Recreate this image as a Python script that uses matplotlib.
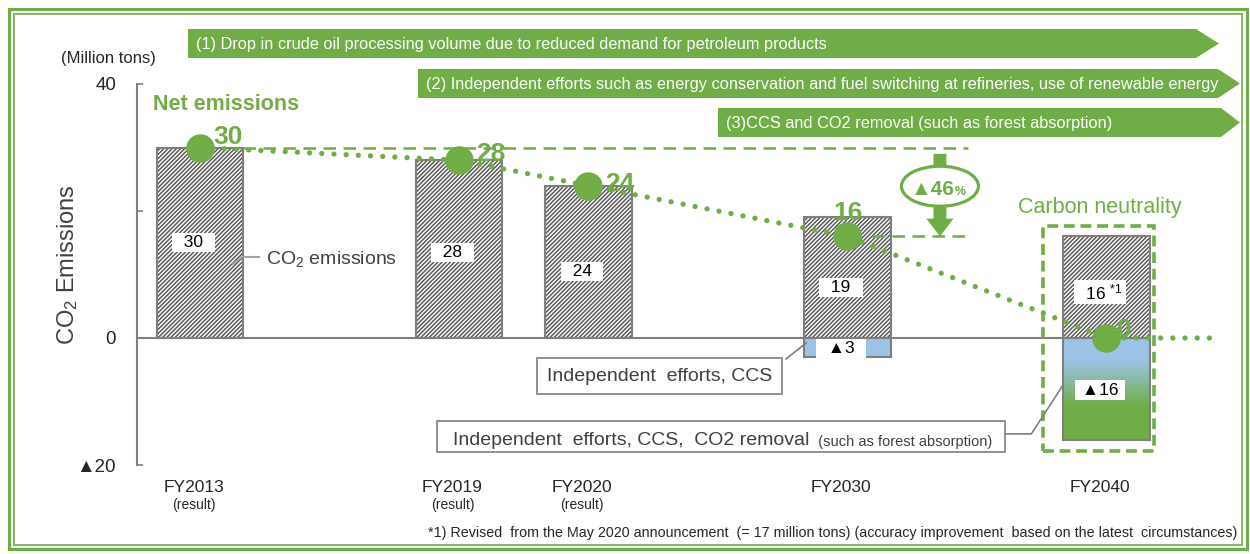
import numpy as np
import matplotlib.pyplot as plt
from matplotlib.patches import Rectangle, Polygon, Ellipse, FancyArrow
from matplotlib.colors import LinearSegmentedColormap

plt.rcParams['font.family'] = ['Liberation Sans', 'DejaVu Sans']
plt.rcParams['mathtext.fontset'] = 'custom'
plt.rcParams['mathtext.rm'] = 'Liberation Sans'
plt.rcParams['mathtext.it'] = 'Liberation Sans:italic'
plt.rcParams['mathtext.bf'] = 'Liberation Sans:bold'
plt.rcParams['hatch.linewidth'] = 1.1

# ---- data ----
years = ['FY2013', 'FY2019', 'FY2020', 'FY2030', 'FY2040']
notes = ['(result)', '(result)', '(result)', '', '']
slots = [0, 2, 3, 5, 7]            # horizontal slot of each year
co2 = [30, 28, 24, 19, 16]         # CO2 emissions (million tons)
removal = [0, 0, 0, -3, -16]       # independent efforts, CCS, CO2 removal
net = [30, 28, 24, 16, 0]          # net emissions
co2_text = ['  30  ', '  28  ', '  24  ', '  19  ', r'  16 $^{*1}$ ']
removal_text = ['', '', '', '  ▲3  ', ' ▲16 ']
reduction = '▲46'

yticks = [-20, 0, 20, 40]
ytick_labels = ['▲20', '0', '', '40']

banners = [
    '(1) Drop in crude oil processing volume due to reduced demand for petroleum products',
    '(2) Independent efforts such as energy conservation and fuel switching at refineries, use of renewable energy',
    '(3)CCS and CO2 removal (such as forest absorption)',
]
footnote = ('*1) Revised  from the May 2020 announcement  (= 17 million tons) '
            '(accuracy improvement  based on the latest  circumstances)')

# ---- style / layout ----
GREEN = '#70AD47'
BLUE = '#9DC3E6'
GREY = '#7F7F7F'
W, H = 1250, 554
bw = 0.67

fig = plt.figure(figsize=(W / 100, H / 100), dpi=100)

# pixel-space layer for frame, banners and loose text
deco = fig.add_axes([0, 0, 1, 1], zorder=0)
deco.set_xlim(0, W)
deco.set_ylim(H, 0)
deco.axis('off')

ax = fig.add_axes([137 / W, 1 - 465 / H, (1230 - 137) / W, (465 - 84) / H], zorder=1)
ax.set_facecolor('none')

# CO2 emission bars (hatched)
ax.bar(slots, co2, bw, color='white', edgecolor='#595959', hatch='////////', lw=0, zorder=2)
ax.bar(slots, co2, bw, fill=False, edgecolor=GREY, lw=1.5, zorder=3)

# reduction bars
neg_idx = [i for i, v in enumerate(removal) if v < 0]
neg = ax.bar([slots[i] for i in neg_idx], [removal[i] for i in neg_idx], bw,
             color=[BLUE if removal[i] > -10 else 'none' for i in neg_idx],
             edgecolor=GREY, lw=1.5, zorder=3)
# blue -> green gradient for the 2040 bar
cmap = LinearSegmentedColormap.from_list('bg', [(0, BLUE), (0.22, BLUE), (0.67, GREEN), (1, GREEN)])
last = neg[-1]
x0 = last.get_x()
im = ax.imshow(np.linspace(0, 1, 200)[:, None], cmap=cmap, origin='upper', aspect='auto',
               extent=[x0, x0 + bw, removal[neg_idx[-1]], 0], zorder=2.5)
im.set_clip_path(last)

# zero line up to the 2040 bar
ax.hlines(0, -0.49, x0, color=GREY, lw=1.5, zorder=3)

# net emission line
line_end = 7.82
ax.plot(slots + [line_end], net + [net[-1]], color=GREEN, lw=3.8, ls=(0, (0.01, 2.3)),
        dash_capstyle='round', zorder=4)
ax.plot(slots, net, 'o', color=GREEN, ms=19.5, zorder=5)

net_offsets = [(13, 10, 'left'), (17, 6, 'left'), (17, 2, 'left'), (1, 23, 'center'), (11, 8, 'left')]
for s, v, (dx, dy, ha) in zip(slots, net, net_offsets):
    ax.annotate(str(v), (s, v), xytext=(dx, dy), textcoords='offset pixels', ha=ha, va='center',
                fontsize=19, fontweight='bold', color=GREEN, zorder=6)

# values inside bars
co2_y = [15.0, 13.5, 10.5, 7.9, 7.2]
for s, t, y in zip(slots, co2_text, co2_y):
    ax.text(s - 0.05, y, t, ha='center', va='center', fontsize=12.5, zorder=4,
            bbox=dict(fc='white', ec='none', pad=1.5))
rem_y = [0, 0, 0, -1.6, -8.2]
for s, t, y in zip(slots, removal_text, rem_y):
    if t:
        ax.text(s - 0.05, y, t, ha='center', va='center', fontsize=12.5, zorder=4,
                bbox=dict(fc='white', ec='none', pad=1.5))

# dashed reference lines and the -46% arrow
ax.hlines(net[0], 0.33, 5.93, color=GREEN, lw=1.8, ls=(0, (5, 3)), zorder=3)
ax.hlines(net[3], 5.19, 5.93, color=GREEN, lw=1.8, ls=(0, (5, 3)), zorder=3)
ax.add_patch(FancyArrow(5.714, 29.0, 0, -(29.0 - net[3]), width=0.1, head_width=0.21,
                        head_length=2.8, length_includes_head=True, color=GREEN, lw=0, zorder=4))
ax.add_patch(Ellipse((5.714, 23.9), 0.595, 6.3, fc='white', ec=GREEN, lw=2.3, zorder=5))
ax.text(5.83, 22.5, reduction, ha='right', va='baseline', fontsize=15, fontweight='bold',
        color=GREEN, zorder=6)
ax.text(5.83, 22.5, '%', ha='left', va='baseline', fontsize=9, fontweight='bold',
        color=GREEN, zorder=6)

# carbon neutrality frame
ax.add_patch(Rectangle((6.51, -17.8), 0.86, 35.4, fill=False, ec=GREEN, lw=2.6,
                       ls=(0, (3, 1.6)), zorder=4))
ax.text(6.95, 20.6, 'Carbon neutrality', ha='center', va='center', fontsize=15.5, color=GREEN)
ax.text(-0.363, 36.7, 'Net emissions', ha='left', va='center', fontsize=15.5,
        fontweight='bold', color=GREEN)

# callouts
ax.plot([0.255, 0.324, 0.456], [11.65, 12.76, 12.76], color='#A6A6A6', lw=1.5, zorder=4)
ax.text(0.51, 12.4, 'CO$_2$ emissions', ha='left', va='center', fontsize=14, color='#404040')

ax.plot([4.525, 4.68], [-3.3, -0.8], color=GREY, lw=1.2, zorder=4)
ax.text(3.55, -6.0, 'Independent  efforts, CCS', ha='center', va='center', fontsize=14,
        color='#404040', zorder=5,
        bbox=dict(fc='white', ec=GREY, lw=1.2, boxstyle='square,pad=0.5'))

ax.plot([6.22, 6.42, 6.66], [-15.1, -15.1, -7.56], color=GREY, lw=1.2, zorder=4)
ax.add_patch(Rectangle((1.83, -17.95), 6.22 - 1.83, 4.88, fc='white', ec=GREY, lw=1.2, zorder=4))
t1 = ax.text(1.955, -16.8, 'Independent  efforts, CCS,  CO2 removal', ha='left', va='baseline',
             fontsize=14, color='#404040', zorder=5)
ax.annotate('  (such as forest absorption)', xy=(1, 0), xycoords=t1, ha='left', va='bottom',
            fontsize=10.5, color='#404040', zorder=5)

# axes styling
ax.set_xlim(-0.4865, 7.954)
ax.set_ylim(-20, 40)
for side in ['top', 'right', 'bottom']:
    ax.spines[side].set_visible(False)
ax.spines['left'].set_color(GREY)
ax.spines['left'].set_linewidth(1.5)
ax.set_yticks(yticks, ytick_labels)
ax.tick_params(axis='y', direction='in', length=4.5, width=1.2, color=GREY, pad=15,
               labelsize=13.5, labelcolor='#262626')
ax.set_xticks([s - 0.05 for s in slots], years)
ax.tick_params(axis='x', length=0, pad=11, labelsize=12.5, labelcolor='#262626')
for s, n in zip(slots, notes):
    if n:
        ax.annotate(n, (s - 0.05, 0), xycoords=('data', 'axes fraction'), xytext=(0, -40),
                    textcoords='offset pixels', ha='center', va='center', fontsize=10,
                    color='#262626')

# frame
deco.add_patch(Rectangle((9, 9), 1238, 540, fill=False, ec=GREEN, lw=2.2))
deco.add_patch(Rectangle((14, 14), 1228, 531, fill=False, ec=GREEN, lw=1.2))

# banners
banner_boxes = [(188, 1196, 1219, 29, 58), (418, 1218, 1240, 69, 98), (718, 1221, 1240, 108, 137)]
for text, (xa, xb, xt, ya, yb) in zip(banners, banner_boxes):
    deco.add_patch(Polygon([(xa, ya), (xb, ya), (xt, (ya + yb) / 2), (xb, yb), (xa, yb)],
                           closed=True, fc=GREEN, ec='none'))
    deco.text(xa + 8, (ya + yb) / 2 + 1, text, ha='left', va='center', fontsize=11.8, color='white')

deco.text(108, 58, '(Million tons)', ha='center', va='center', fontsize=12, color='#262626')
deco.text(68, 265, 'CO$_2$ Emissions', rotation=90, ha='center', va='center', fontsize=17,
          color='#404040')
deco.text(1237, 533, footnote, ha='right', va='center', fontsize=10.3, color='#262626')

fig.savefig('out.png', dpi=100)
